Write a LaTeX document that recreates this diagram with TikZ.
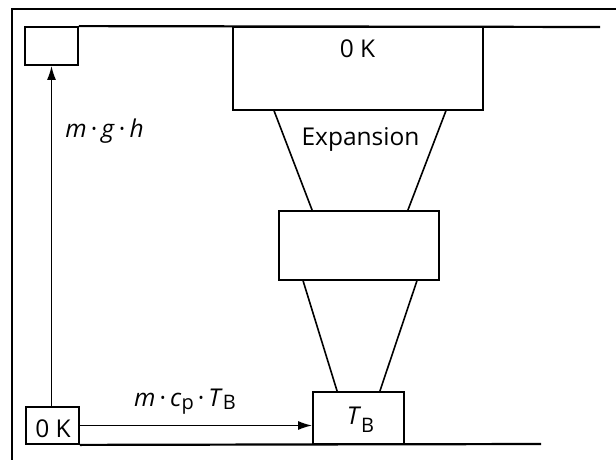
\documentclass[tikz,border=0pt]{standalone}
\usepackage{fontspec}
\setmainfont{Open Sans}
\usetikzlibrary{arrows.meta,calc}
\newcommand\lowsub[2]{\raisebox{-#1}{\fontsize{20}{22}\selectfont #2}}
\begin{document}
\begin{tikzpicture}[x=1pt,y=-1pt,
  box/.style={draw, line width=1.8pt, inner sep=0pt, minimum width=#1},
  frame/.style={line width=2.2pt},
  thin/.style={line width=1.6pt},
  arr/.style={line width=1.6pt, -{Latex[length=14pt,width=9pt]}},
  txt/.style={font=\fontsize{24.5}{28}\selectfont, inner sep=0pt},
  lbl/.style={txt, anchor=base}
]
\useasboundingbox (0,0) rectangle (616,460);
% outer frame
\draw[frame] (12,460) -- (12,9) -- (616,9);
% boxes
\node[box=53pt, minimum height=38pt] (tl) at (51.5,46) {};
\node[box=250pt, minimum height=83pt] (top) at (358,68.5) {};
\node[box=160pt, minimum height=69pt] (mid) at (359,245.5) {};
\node[box=91pt, minimum height=52pt] (tb) at (358.5,418) {};
\node[box=53pt, minimum height=37pt] (bl) at (52.5,425.5) {};
\node[lbl] (tbt) at (360.5,424) {\textit{T}\lowsub{8pt}{B}};
\node[lbl] (blt) at (53,437) {0 K};
\node[lbl] (topk) at (357.5,57.3) {0 K};
\node[lbl] (exp) at (360.5,145) {Expansion};
\node[lbl] (mgh) at (104.5,137) {\textit{m}\,·\,\textit{g}\,·\,\textit{h}};
\node[lbl] (mcp) at (185,406) {\textit{m}\,·\,\textit{c}\lowsub{3pt}{p}\,·\,\textit{T}\lowsub{3pt}{B}};
% ground lines
\draw[frame] (tl.north east) -- (600,27);
\draw[frame] (bl.south east) -- (541,444);
% trapezoids
\draw[thin] ($(top.south west)+(42,0)$) -- ($(mid.north west)+(34,0)$);
\draw[thin] ($(top.south east)+(-38,0)$) -- ($(mid.north east)+(-32,0)$);
\draw[thin] ($(mid.south west)+(25,0)$) -- ($(tb.north west)+(25,0)$);
\draw[thin] ($(mid.south east)+(-23,0)$) -- ($(tb.north east)+(-25,0)$);
% arrows
\draw[arr] (bl.north -| tl.south) -- (tl.south);
\draw[arr] (bl.east) -- (bl.east -| tb.west);
\end{tikzpicture}
\end{document}
